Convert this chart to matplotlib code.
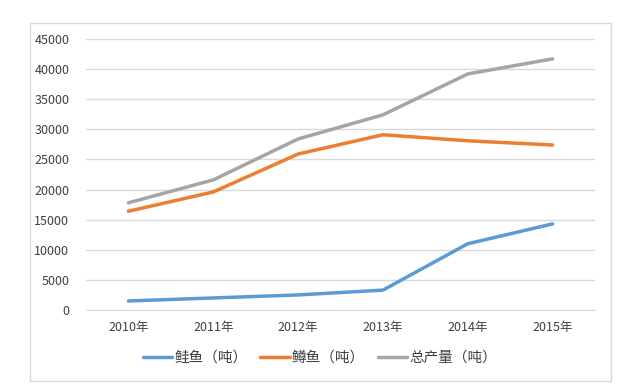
import matplotlib.pyplot as plt
from matplotlib.patches import Rectangle

plt.rcParams['font.family'] = ['Noto Sans CJK SC', 'DejaVu Sans']

years = ['2010年', '2011年', '2012年', '2013年', '2014年', '2015年']
salmon = [1500, 2000, 2500, 3300, 11000, 14300]
trout = [16400, 19600, 25900, 29100, 28100, 27400]
total = [17800, 21600, 28400, 32400, 39200, 41700]
labels = ['鲑鱼（吨）', '鳟鱼（吨）', '总产量（吨）']
colors = ['#5b9bd5', '#ed7d31', '#a5a5a5']

fig = plt.figure(figsize=(6.32, 3.87), dpi=100)
fig.patches.append(Rectangle((30 / 632, 6 / 387), 581 / 632, 358 / 387,
                             transform=fig.transFigure, fill=False,
                             edgecolor='#d9d9d9', linewidth=1))
ax = fig.add_axes([86 / 632, 77 / 387, 509 / 632, 271 / 387])

x = range(len(years))
for vals, lab, c in zip([salmon, trout, total], labels, colors):
    ax.plot(x, vals, color=c, linewidth=2.5, label=lab, solid_capstyle='round')

ax.set_xlim(-0.5, 5.5)
ax.set_ylim(0, 45000)
ax.set_yticks(range(0, 45001, 5000))
ax.set_xticks(list(x))
ax.set_xticklabels(years)
ax.tick_params(length=0, labelsize=9, colors='#404040', pad=8)
ax.tick_params(axis='y', pad=12)
ax.grid(axis='y', color='#d9d9d9', linewidth=1)
ax.set_axisbelow(True)
for s in ['top', 'left', 'right']:
    ax.spines[s].set_visible(False)
ax.spines['bottom'].set_color('#d9d9d9')

fig.legend(loc='center', bbox_to_anchor=(320 / 632, 1 - 358 / 387), ncol=3,
           frameon=False, fontsize=10.5, handlelength=2.0, columnspacing=0.9,
           handletextpad=0.15, labelcolor='#404040')

fig.savefig('out.png', dpi=100)
